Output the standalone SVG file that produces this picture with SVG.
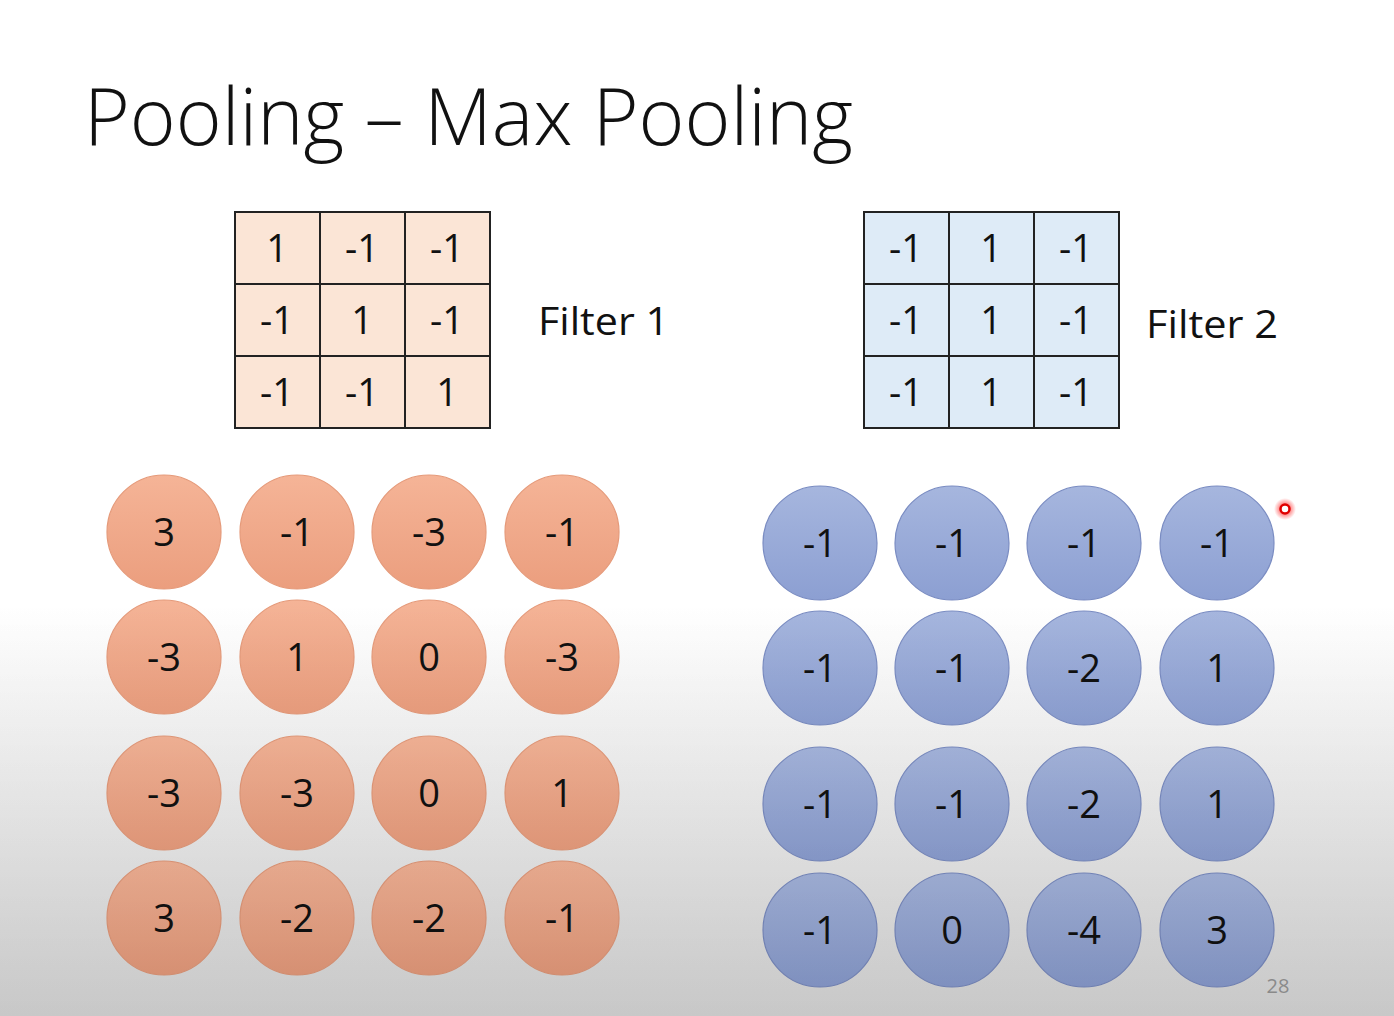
<svg xmlns="http://www.w3.org/2000/svg" width="1394" height="1016" viewBox="0 0 1394 1016">
<defs>
<linearGradient id="bg" x1="0" y1="0" x2="0" y2="1">
<stop offset="0" stop-color="#ffffff"/>
<stop offset="0.6" stop-color="#ffffff"/>
<stop offset="1" stop-color="#dedede"/>
</linearGradient>
<linearGradient id="og" x1="0" y1="0" x2="0" y2="1">
<stop offset="0" stop-color="#f5b497"/>
<stop offset="1" stop-color="#eb9e7e"/>
</linearGradient>
<linearGradient id="bgr" x1="0" y1="0" x2="0" y2="1">
<stop offset="0" stop-color="#a6b6de"/>
<stop offset="1" stop-color="#8c9fd2"/>
</linearGradient>
<linearGradient id="shade" x1="0" y1="0" x2="0" y2="1">
<stop offset="0" stop-color="#000" stop-opacity="0"/>
<stop offset="1" stop-color="#000" stop-opacity="0.1"/>
</linearGradient>
<radialGradient id="glow">
<stop offset="0.4" stop-color="#ff4040" stop-opacity="0.7"/>
<stop offset="1" stop-color="#ff4040" stop-opacity="0"/>
</radialGradient>
</defs>
<style>
text{font-family:"Open Sans","Noto Sans","Liberation Sans",sans-serif;fill:#111;}
.n{font-size:38px;text-anchor:middle;}
.c1{fill:#fbe5d6;stroke:#222;stroke-width:2;}
.c2{fill:#deebf7;stroke:#222;stroke-width:2;}
.oc{fill:url(#og);stroke:#e59a7a;stroke-width:1.2;}
.bc{fill:url(#bgr);stroke:#7a8cc2;stroke-width:1.2;}
.lbl{font-size:38px;}
.title{font-size:80px;font-weight:300;}
</style>
<rect x="0" y="0" width="1394" height="1016" fill="url(#bg)"/>
<text class="title" x="84" y="145" textLength="769" lengthAdjust="spacingAndGlyphs">Pooling – Max Pooling</text>

<g id="filter1">
<rect class="c1" x="235" y="212" width="85" height="72"/><rect class="c1" x="320" y="212" width="85" height="72"/><rect class="c1" x="405" y="212" width="85" height="72"/>
<rect class="c1" x="235" y="284" width="85" height="72"/><rect class="c1" x="320" y="284" width="85" height="72"/><rect class="c1" x="405" y="284" width="85" height="72"/>
<rect class="c1" x="235" y="356" width="85" height="72"/><rect class="c1" x="320" y="356" width="85" height="72"/><rect class="c1" x="405" y="356" width="85" height="72"/>
<text class="n" x="277" y="262">1</text><text class="n" x="362" y="262">-1</text><text class="n" x="447" y="262">-1</text>
<text class="n" x="277" y="334">-1</text><text class="n" x="362" y="334">1</text><text class="n" x="447" y="334">-1</text>
<text class="n" x="277" y="406">-1</text><text class="n" x="362" y="406">-1</text><text class="n" x="447" y="406">1</text>
<text class="lbl" x="538" y="335" textLength="131" lengthAdjust="spacingAndGlyphs">Filter 1</text>
</g>

<g id="filter2">
<rect class="c2" x="864" y="212" width="85" height="72"/><rect class="c2" x="949" y="212" width="85" height="72"/><rect class="c2" x="1034" y="212" width="85" height="72"/>
<rect class="c2" x="864" y="284" width="85" height="72"/><rect class="c2" x="949" y="284" width="85" height="72"/><rect class="c2" x="1034" y="284" width="85" height="72"/>
<rect class="c2" x="864" y="356" width="85" height="72"/><rect class="c2" x="949" y="356" width="85" height="72"/><rect class="c2" x="1034" y="356" width="85" height="72"/>
<text class="n" x="906" y="262">-1</text><text class="n" x="991" y="262">1</text><text class="n" x="1076" y="262">-1</text>
<text class="n" x="906" y="334">-1</text><text class="n" x="991" y="334">1</text><text class="n" x="1076" y="334">-1</text>
<text class="n" x="906" y="406">-1</text><text class="n" x="991" y="406">1</text><text class="n" x="1076" y="406">-1</text>
<text class="lbl" x="1146" y="338" textLength="132" lengthAdjust="spacingAndGlyphs">Filter 2</text>
</g>

<g id="map1">
<circle class="oc" cx="164" cy="532" r="57"/><circle class="oc" cx="297" cy="532" r="57"/><circle class="oc" cx="429" cy="532" r="57"/><circle class="oc" cx="562" cy="532" r="57"/>
<circle class="oc" cx="164" cy="657" r="57"/><circle class="oc" cx="297" cy="657" r="57"/><circle class="oc" cx="429" cy="657" r="57"/><circle class="oc" cx="562" cy="657" r="57"/>
<circle class="oc" cx="164" cy="793" r="57"/><circle class="oc" cx="297" cy="793" r="57"/><circle class="oc" cx="429" cy="793" r="57"/><circle class="oc" cx="562" cy="793" r="57"/>
<circle class="oc" cx="164" cy="918" r="57"/><circle class="oc" cx="297" cy="918" r="57"/><circle class="oc" cx="429" cy="918" r="57"/><circle class="oc" cx="562" cy="918" r="57"/>
<text class="n" x="164" y="546">3</text><text class="n" x="297" y="546">-1</text><text class="n" x="429" y="546">-3</text><text class="n" x="562" y="546">-1</text>
<text class="n" x="164" y="671">-3</text><text class="n" x="297" y="671">1</text><text class="n" x="429" y="671">0</text><text class="n" x="562" y="671">-3</text>
<text class="n" x="164" y="807">-3</text><text class="n" x="297" y="807">-3</text><text class="n" x="429" y="807">0</text><text class="n" x="562" y="807">1</text>
<text class="n" x="164" y="932">3</text><text class="n" x="297" y="932">-2</text><text class="n" x="429" y="932">-2</text><text class="n" x="562" y="932">-1</text>
</g>

<g id="map2">
<circle class="bc" cx="820" cy="543" r="57"/><circle class="bc" cx="952" cy="543" r="57"/><circle class="bc" cx="1084" cy="543" r="57"/><circle class="bc" cx="1217" cy="543" r="57"/>
<circle class="bc" cx="820" cy="668" r="57"/><circle class="bc" cx="952" cy="668" r="57"/><circle class="bc" cx="1084" cy="668" r="57"/><circle class="bc" cx="1217" cy="668" r="57"/>
<circle class="bc" cx="820" cy="804" r="57"/><circle class="bc" cx="952" cy="804" r="57"/><circle class="bc" cx="1084" cy="804" r="57"/><circle class="bc" cx="1217" cy="804" r="57"/>
<circle class="bc" cx="820" cy="930" r="57"/><circle class="bc" cx="952" cy="930" r="57"/><circle class="bc" cx="1084" cy="930" r="57"/><circle class="bc" cx="1217" cy="930" r="57"/>
<text class="n" x="820" y="557">-1</text><text class="n" x="952" y="557">-1</text><text class="n" x="1084" y="557">-1</text><text class="n" x="1217" y="557">-1</text>
<text class="n" x="820" y="682">-1</text><text class="n" x="952" y="682">-1</text><text class="n" x="1084" y="682">-2</text><text class="n" x="1217" y="682">1</text>
<text class="n" x="820" y="818">-1</text><text class="n" x="952" y="818">-1</text><text class="n" x="1084" y="818">-2</text><text class="n" x="1217" y="818">1</text>
<text class="n" x="820" y="944">-1</text><text class="n" x="952" y="944">0</text><text class="n" x="1084" y="944">-4</text><text class="n" x="1217" y="944">3</text>
</g>

<rect x="0" y="600" width="1394" height="416" fill="url(#shade)"/>
<text x="1278" y="993" font-size="20" text-anchor="middle" style="fill:#8a8a8a">28</text>
<g id="pointer">
<circle cx="1285" cy="509" r="11" fill="url(#glow)"/>
<circle cx="1285" cy="509" r="4.5" fill="#fff" stroke="#e00000" stroke-width="2.5"/>
</g>
</svg>
